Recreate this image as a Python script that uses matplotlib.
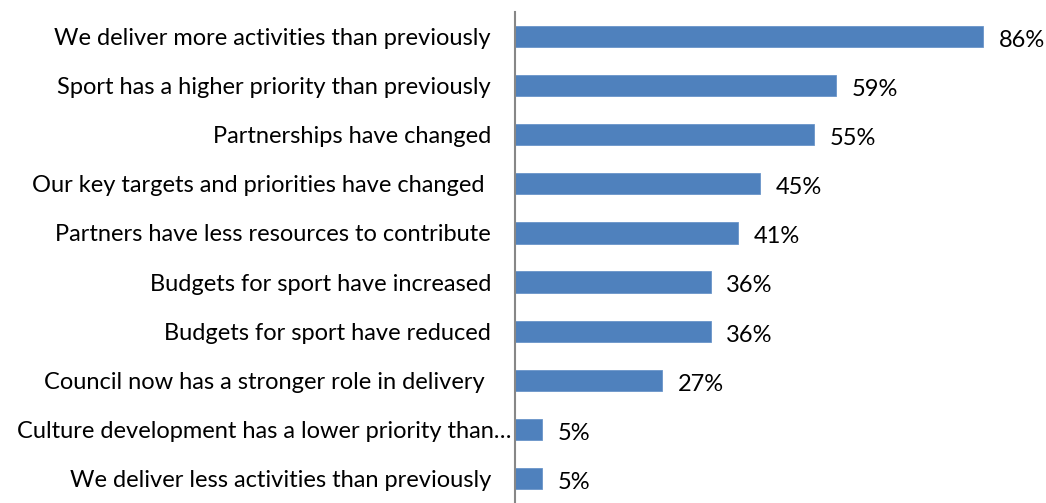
import matplotlib
matplotlib.use("Agg")
import matplotlib.pyplot as plt
import matplotlib.transforms as mtransforms

categories = [
    "We deliver more activities than previously",
    "Sport has a higher priority than previously",
    "Partnerships have changed",
    "Our key targets and priorities have changed ",
    "Partners have less resources to contribute",
    "Budgets for sport have increased",
    "Budgets for sport have reduced",
    "Council now has a stronger role in delivery ",
    "Culture development has a lower priority than\u2026",
    "We deliver less activities than previously",
]
values = [86, 59, 55, 45, 41, 36, 36, 27, 5, 5]

plt.rcParams["font.family"] = ["Lato", "DejaVu Sans"]

W, H = 1046, 503
fig = plt.figure(figsize=(W / 100, H / 100), dpi=100)
left_px, top_px, bottom_px = 514.5, 12, 503
ax = fig.add_axes([left_px / W, 1 - bottom_px / H, (W - left_px) / W, (bottom_px - top_px) / H])

px_per_pct = (983 - 514.5) / 86
xmax = (W - left_px) / px_per_pct

y = list(range(len(categories)))
ax.barh(y, values, height=0.43, color="#4F81BD", edgecolor="#6A95C9", linewidth=0.6)
for yi, v in zip(y, values):
    ax.text(v + 2.9, yi + 0.08, f"{v}%", va="center", ha="left", fontsize=17, color="#000000")

ax.set_xlim(0, xmax)
ax.set_ylim(len(categories) - 0.5, -0.5)
ax.set_yticks(y)
ax.set_yticklabels(categories, fontsize=17)
ax.tick_params(axis="y", length=0, pad=17)

# The truncated label runs closer to the axis line
shift = mtransforms.ScaledTranslation(15 / 72, 0, fig.dpi_scale_trans)
lbl = ax.get_yticklabels()[8]
lbl.set_transform(lbl.get_transform() + shift)

ax.set_xticks([])
for s in ["top", "right", "bottom"]:
    ax.spines[s].set_visible(False)
ax.spines["left"].set_color("#878787")
ax.spines["left"].set_linewidth(1.5)

fig.savefig("out.png", dpi=100)
